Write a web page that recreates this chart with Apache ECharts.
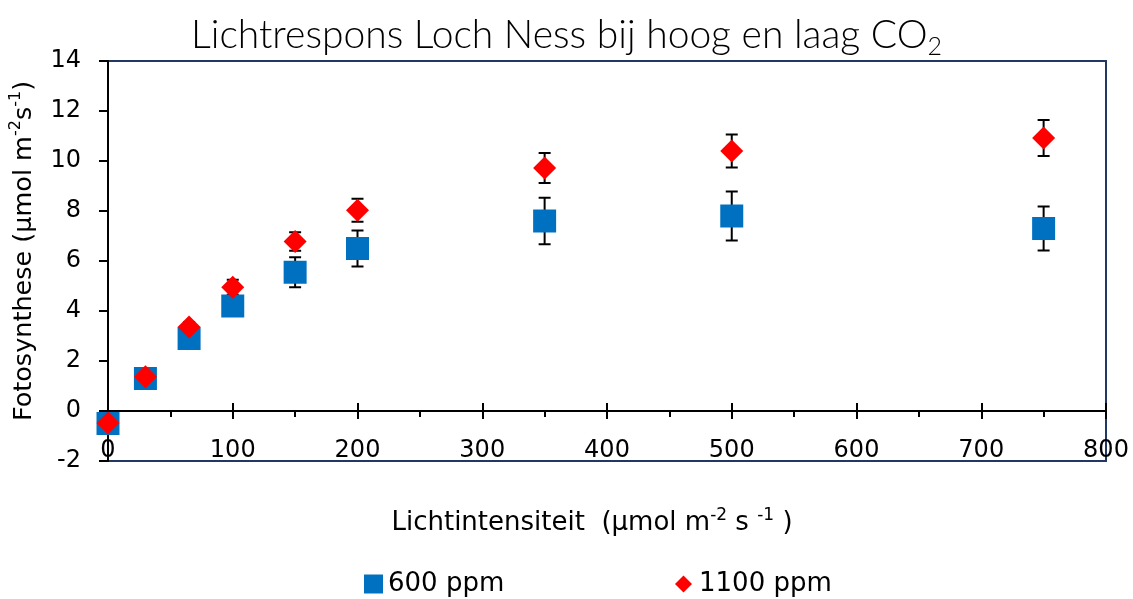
<!DOCTYPE html>
<html>
<head>
<meta charset="utf-8">
<script src="https://cdn.jsdelivr.net/npm/echarts@6/dist/echarts.min.js"></script>
<style>
  html, body { margin: 0; padding: 0; background: #fff; }
  #chart { width: 1133px; height: 599px; }
</style>
</head>
<body>
<div id="chart"></div>
<script>
// Light intensity (µmol m-2 s-1) and net photosynthesis at two CO2 levels
const lightIntensity = [0, 30, 65, 100, 150, 200, 350, 500, 750];
const ppm600 = [-0.5, 1.3, 2.9, 4.2, 5.55, 6.5, 7.6, 7.8, 7.3];
const ppm600Err = [0.15, 0.15, 0.2, 0.25, 0.6, 0.72, 0.93, 0.98, 0.88];
const ppm1100 = [-0.48, 1.37, 3.36, 4.95, 6.78, 8.03, 9.72, 10.4, 10.92];
const ppm1100Err = [0.1, 0.15, 0.2, 0.3, 0.37, 0.46, 0.6, 0.66, 0.72];

const seriesNames = ['600 ppm', '1100 ppm'];

const FONT = '"DejaVu Sans", Verdana, sans-serif';
const FRAME = '#203864';

const pts600 = lightIntensity.map((x, i) => [x, ppm600[i]]);
const pts1100 = lightIntensity.map((x, i) => [x, ppm1100[i]]);
const err600 = lightIntensity.map((x, i) => [x, ppm600[i], ppm600Err[i]]);
const err1100 = lightIntensity.map((x, i) => [x, ppm1100[i], ppm1100Err[i]]);

// Vertical error bar with caps, positioned via the chart's coordinate system
function errorBar(params, api) {
  const x = api.value(0), y = api.value(1), e = api.value(2);
  const top = api.coord([x, y + e]);
  const bot = api.coord([x, y - e]);
  const cap = 6;
  const style = { stroke: '#000', lineWidth: 2 };
  return {
    type: 'group',
    children: [
      { type: 'line', shape: { x1: top[0], y1: top[1], x2: bot[0], y2: bot[1] }, style },
      { type: 'line', shape: { x1: top[0] - cap, y1: top[1], x2: top[0] + cap, y2: top[1] }, style },
      { type: 'line', shape: { x1: bot[0] - cap, y1: bot[1], x2: bot[0] + cap, y2: bot[1] }, style }
    ]
  };
}

const chart = echarts.init(document.getElementById('chart'), null, { renderer: 'canvas' });

chart.setOption({
  animation: false,
  backgroundColor: '#ffffff',
  title: {
    text: '{t|Lichtrespons Loch Ness bij hoog en laag CO}{s|2}',
    left: 186,
    top: 6,
    textStyle: {
      rich: {
        t: { fontFamily: 'Lato, "Open Sans", sans-serif', fontWeight: 300, fontSize: 39, color: '#000', lineHeight: 48 },
        s: { fontFamily: 'Lato, "Open Sans", sans-serif', fontWeight: 300, fontSize: 25, color: '#000', verticalAlign: 'bottom', lineHeight: 34 }
      }
    }
  },
  legend: [
    {
      data: [{ name: seriesNames[0], icon: 'rect' }],
      left: 359,
      top: 566,
      itemWidth: 19,
      itemHeight: 19,
      textStyle: { fontFamily: FONT, fontSize: 26, color: '#000' }
    },
    {
      data: [{ name: seriesNames[1], icon: 'diamond' }],
      left: 670,
      top: 566,
      itemWidth: 17,
      itemHeight: 17,
      textStyle: { fontFamily: FONT, fontSize: 26, color: '#000', padding: [0, 0, 0, 2] }
    }
  ],
  grid: {
    left: 105,
    top: 61,
    width: 1001,
    height: 400,
    show: true,
    borderColor: FRAME,
    borderWidth: 2,
    backgroundColor: 'transparent'
  },
  xAxis: [
    {
      type: 'value',
      position: 'bottom',
      min: 0,
      max: 800,
      interval: 100,
      axisLine: { show: true, onZero: true, onZeroAxisIndex: 0, lineStyle: { color: '#000', width: 2 } },
      axisTick: { show: true, inside: false, length: 8, lineStyle: { color: '#000', width: 2 } },
      minorTick: { show: true, splitNumber: 2, length: 6, lineStyle: { color: '#000', width: 2 } },
      splitLine: { show: false },
      axisLabel: { fontFamily: FONT, fontSize: 24, color: '#000', margin: -22 },
      name: '{n|Lichtintensiteit  (µmol m}{p|-2}{n| s }{p|-1}{n| )}',
      nameLocation: 'middle',
      nameGap: 46,
      nameTextStyle: {
        padding: [0, 30, 0, 0],
        rich: {
          n: { fontFamily: FONT, fontSize: 26, color: '#000', lineHeight: 32 },
          p: { fontFamily: FONT, fontSize: 17, color: '#000', verticalAlign: 'top', lineHeight: 32, padding: [0, 0, 13, 0] }
        }
      }
    },
    {
      // upper half of the crossing major ticks on the zero line
      type: 'value',
      position: 'top',
      min: 0,
      max: 800,
      interval: 100,
      axisLine: { show: false, onZero: true, onZeroAxisIndex: 0 },
      axisTick: { show: true, inside: false, length: 8, lineStyle: { color: '#000', width: 2 } },
      axisLabel: { show: false },
      splitLine: { show: false }
    }
  ],
  yAxis: {
    type: 'value',
    min: -2,
    max: 14,
    interval: 2,
    axisLine: { show: true, onZero: false, lineStyle: { color: '#000', width: 2 } },
    axisTick: { show: true, inside: false, length: 9, lineStyle: { color: '#000', width: 2 } },
    splitLine: { show: false },
    axisLabel: { fontFamily: FONT, fontSize: 24, color: '#000', margin: 27 },
    name: '{n|Fotosynthese (µmol m}{p|-2}{n|s}{p|-1}{n|)}',
    nameLocation: 'middle',
    nameGap: 68,
    nameRotate: 90,
    nameTextStyle: {
      padding: [0, 0, 0, 20],
      rich: {
        n: { fontFamily: FONT, fontSize: 25.5, color: '#000', lineHeight: 32 },
        p: { fontFamily: FONT, fontSize: 16, color: '#000', verticalAlign: 'top', lineHeight: 32, padding: [0, 0, 13, 0] }
      }
    }
  },
  series: [
    {
      type: 'custom',
      name: 'err600',
      renderItem: errorBar,
      data: err600,
      z: 1,
      silent: true
    },
    {
      type: 'custom',
      name: 'err1100',
      renderItem: errorBar,
      data: err1100,
      z: 1,
      silent: true
    },
    {
      type: 'scatter',
      name: seriesNames[0],
      data: pts600,
      symbol: 'rect',
      symbolSize: 23,
      itemStyle: { color: '#0070C0', opacity: 1 },
      z: 2
    },
    {
      type: 'scatter',
      name: seriesNames[1],
      data: pts1100,
      symbol: 'diamond',
      symbolSize: 23,
      itemStyle: { color: '#FF0000', opacity: 1 },
      z: 3
    }
  ]
});
</script>
</body>
</html>
